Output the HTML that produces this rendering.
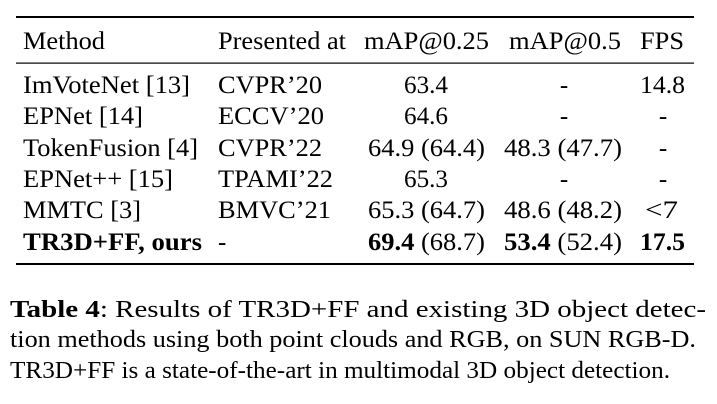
<!DOCTYPE html>
<html><head><meta charset="utf-8"><style>
html,body{margin:0;padding:0;background:#fff;width:717px;height:404px;overflow:hidden}
svg{display:block}
text{font-family:'Liberation Serif',serif;fill:#000;font-size:25px}
.b{font-weight:bold}
.c{font-size:24px}
</style></head><body>
<svg width="717" height="404" viewBox="0 0 717 404" xmlns="http://www.w3.org/2000/svg" font-family="Liberation Serif">
<rect x="16" y="16" width="678" height="2" fill="#000"/>
<rect x="16" y="62.5" width="678" height="1.2" fill="#000"/>
<rect x="16" y="263" width="678" height="2" fill="#000"/>

<g>
<text x="23" y="49" textLength="82" lengthAdjust="spacingAndGlyphs">Method</text>
<text x="218" y="49" textLength="128" lengthAdjust="spacingAndGlyphs">Presented at</text>
<text x="364" y="49" textLength="125" lengthAdjust="spacingAndGlyphs">mAP@0.25</text>
<text x="509" y="49" textLength="112" lengthAdjust="spacingAndGlyphs">mAP@0.5</text>
<text x="640" y="49" textLength="44" lengthAdjust="spacingAndGlyphs">FPS</text>
</g>

<g>
<text x="23" y="93" textLength="167" lengthAdjust="spacingAndGlyphs">ImVoteNet [13]</text>
<text x="218" y="93" textLength="104" lengthAdjust="spacingAndGlyphs">CVPR’20</text>
<text x="404" y="93" textLength="44" lengthAdjust="spacingAndGlyphs">63.4</text>
<text x="564" y="93" text-anchor="middle">-</text>
<text x="640" y="93" textLength="45" lengthAdjust="spacingAndGlyphs">14.8</text>

<text x="23" y="124" textLength="120" lengthAdjust="spacingAndGlyphs">EPNet [14]</text>
<text x="218" y="124" textLength="106" lengthAdjust="spacingAndGlyphs">ECCV’20</text>
<text x="404" y="124" textLength="44" lengthAdjust="spacingAndGlyphs">64.6</text>
<text x="564" y="124" text-anchor="middle">-</text>
<text x="663" y="124" text-anchor="middle">-</text>

<text x="23" y="156" textLength="175" lengthAdjust="spacingAndGlyphs">TokenFusion [4]</text>
<text x="218" y="156" textLength="104" lengthAdjust="spacingAndGlyphs">CVPR’22</text>
<text x="368" y="156" textLength="117" lengthAdjust="spacingAndGlyphs">64.9 (64.4)</text>
<text x="504" y="156" textLength="118" lengthAdjust="spacingAndGlyphs">48.3 (47.7)</text>
<text x="663" y="156" text-anchor="middle">-</text>

<text x="23" y="187" textLength="150" lengthAdjust="spacingAndGlyphs">EPNet++ [15]</text>
<text x="218" y="187" textLength="115" lengthAdjust="spacingAndGlyphs">TPAMI’22</text>
<text x="404" y="187" textLength="44" lengthAdjust="spacingAndGlyphs">65.3</text>
<text x="564" y="187" text-anchor="middle">-</text>
<text x="663" y="187" text-anchor="middle">-</text>

<text x="23" y="218" textLength="118" lengthAdjust="spacingAndGlyphs">MMTC [3]</text>
<text x="218" y="218" textLength="113" lengthAdjust="spacingAndGlyphs">BMVC’21</text>
<text x="368" y="218" textLength="117" lengthAdjust="spacingAndGlyphs">65.3 (64.7)</text>
<text x="504" y="218" textLength="118" lengthAdjust="spacingAndGlyphs">48.6 (48.2)</text>
<text x="645" y="218" textLength="33" lengthAdjust="spacingAndGlyphs">&lt;7</text>

<text x="23" y="250" class="b" textLength="179" lengthAdjust="spacingAndGlyphs">TR3D+FF, ours</text>
<text x="218" y="250">-</text>
<text x="368" y="250" textLength="117" lengthAdjust="spacingAndGlyphs"><tspan class="b">69.4</tspan> (68.7)</text>
<text x="504" y="250" textLength="118" lengthAdjust="spacingAndGlyphs"><tspan class="b">53.4</tspan> (52.4)</text>
<text x="640" y="250" class="b" textLength="45" lengthAdjust="spacingAndGlyphs">17.5</text>
</g>

<g>
<text class="c" x="10" y="317" textLength="696" lengthAdjust="spacingAndGlyphs"><tspan class="b">Table 4</tspan>:  Results of TR3D+FF and existing 3D object detec-</text>
<text class="c" x="10" y="347" textLength="686" lengthAdjust="spacingAndGlyphs">tion methods using both point clouds and RGB, on SUN RGB-D.</text>
<text class="c" x="10" y="378" textLength="660" lengthAdjust="spacingAndGlyphs">TR3D+FF is a state-of-the-art in multimodal 3D object detection.</text>
</g>
</svg>
</body></html>
